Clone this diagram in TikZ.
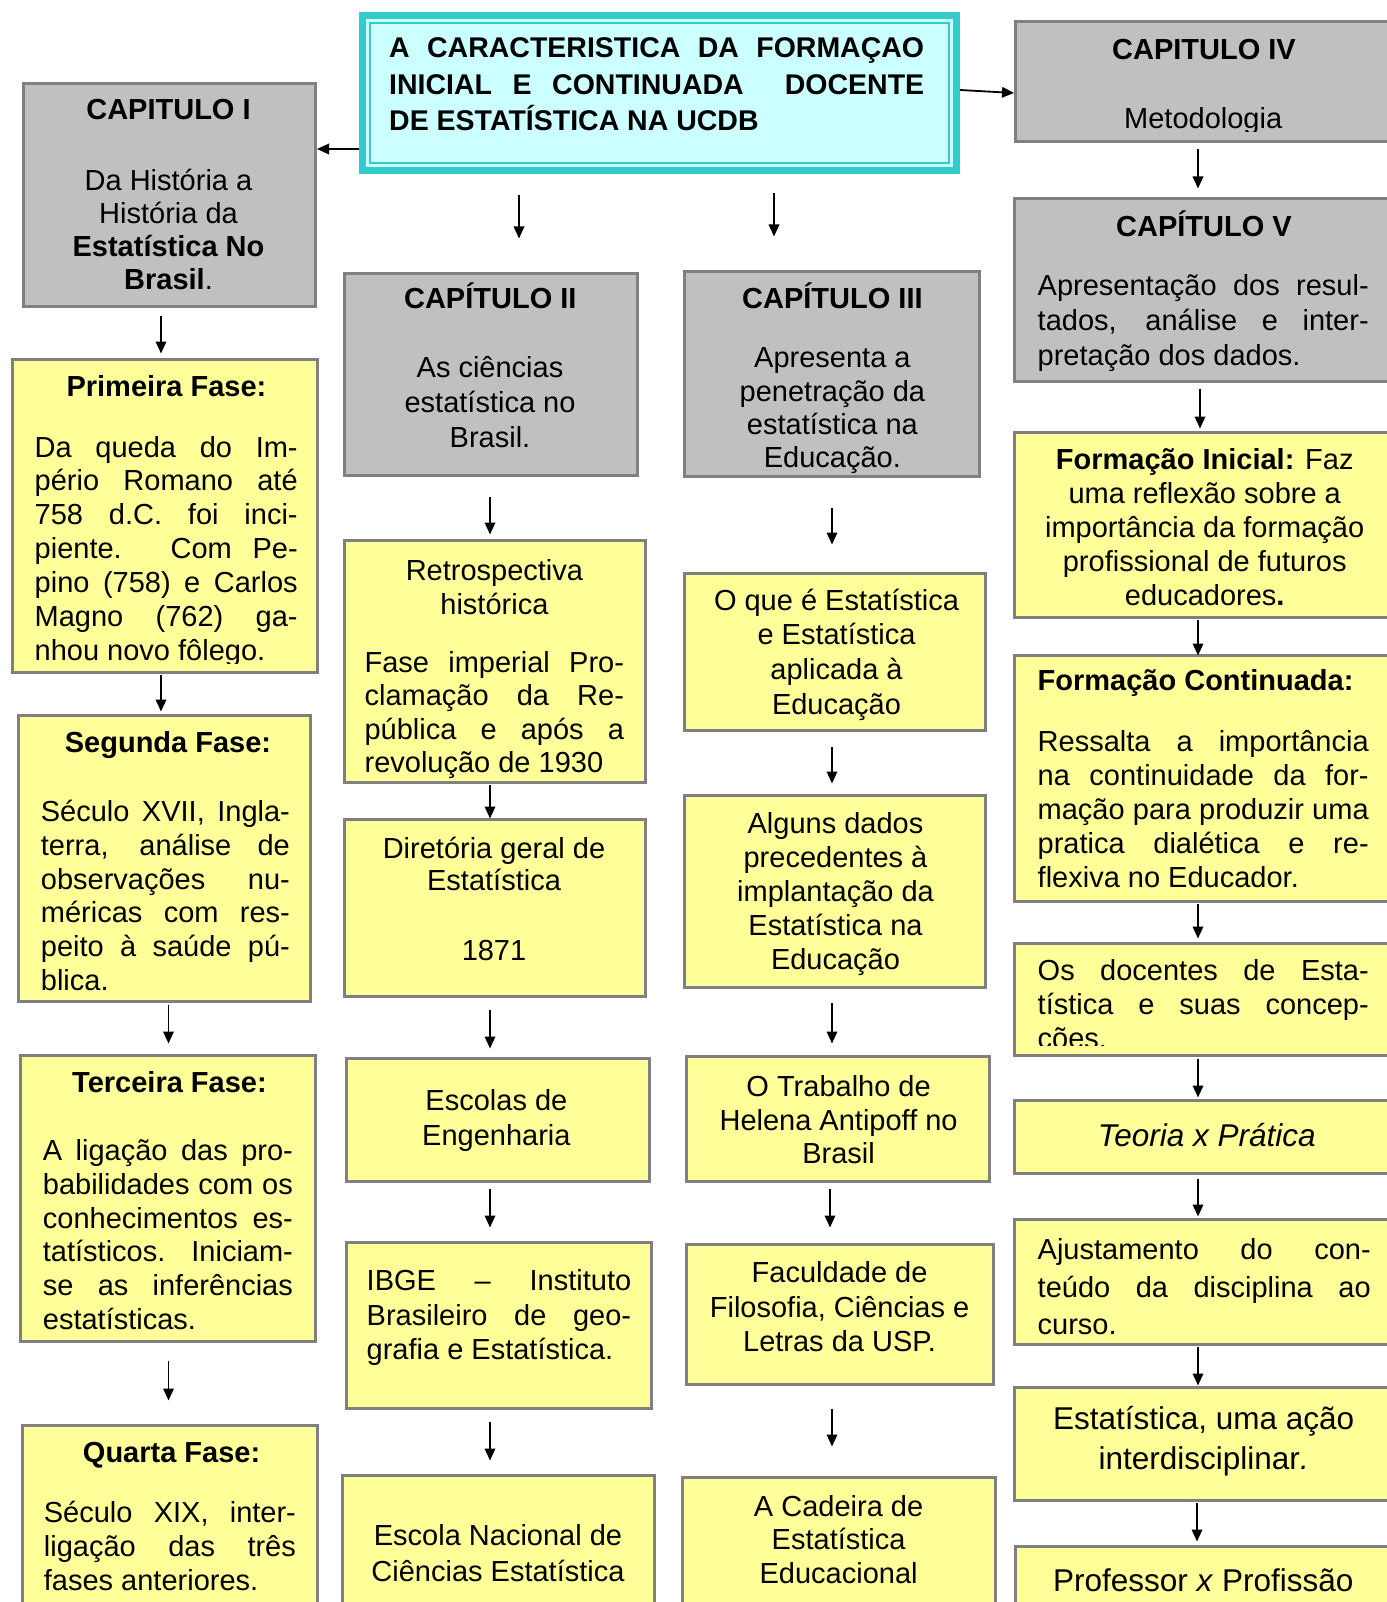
\documentclass[tikz,border=0pt]{standalone}
\usepackage{fontspec}
\setmainfont{Liberation Sans}
\usetikzlibrary{arrows.meta,calc}
\definecolor{gfill}{HTML}{C0C0C0}
\definecolor{yfill}{HTML}{FFFF99}
\definecolor{edgec}{HTML}{808080}
\definecolor{tealc}{HTML}{33CCCC}
\definecolor{cyanf}{HTML}{CCFFFF}
\newcommand\fsz[2]{\fontsize{#1}{#2}\selectfont}
\newcommand\jline[1]{\makebox[\linewidth][s]{#1}\par}
\newcommand\mkbox[6]{\node[#2, minimum width={#5-#3-3}, minimum height={#6-#4-3}] (#1) at ({(#3+#5)/2},{(#4+#6)/2}) {};}
\begin{document}
\begin{tikzpicture}[x=1pt,y=-1pt,
  bx/.style={draw=edgec, line width=3.2pt, inner sep=0pt, outer sep=0pt},
  gbx/.style={bx, fill=gfill},
  ybx/.style={bx, fill=yfill},
  tx/.style={inner sep=0pt, outer sep=0pt, anchor=base, font={\fsz{29}{33.7}}},
  txl/.style={tx, anchor=base west},
  arr/.style={line width=1.8pt, -{Triangle[length=12pt,width=10.5pt]}},
]
\fill[white] (0,0) rectangle (1386,1602);
\useasboundingbox (0,0) rectangle (1386,1602);

% title
\node[draw=tealc, line width=7pt, fill=cyanf, inner sep=0pt, outer sep=0pt, minimum width=594, minimum height=155] (title) at (659.5,93) {};
\draw[tealc, line width=1.8pt] ([xshift=7.5pt,yshift=-7.5pt]title.north west) rectangle ([xshift=-7.5pt,yshift=7.5pt]title.south east);
\node[txl] (titlet) at (389.2,58) {\parbox[t]{535pt}{\fsz{28.5}{36.3}\bfseries
  \jline{A CARACTERISTICA DA FORMAÇAO}\jline{INICIAL E CONTINUADA\ \ DOCENTE}DE ESTATÍSTICA NA UCDB}};

% boxes
\mkbox{capI}{gbx}{22}{82}{317}{308}
\mkbox{prim}{ybx}{11}{358}{319}{674}
\mkbox{seg}{ybx}{17}{714}{312}{1003}
\mkbox{ter}{ybx}{19}{1054}{317}{1343}
\mkbox{quar}{ybx}{21}{1424}{319}{1625}
\mkbox{capII}{gbx}{343}{272}{639}{477}
\mkbox{retro}{ybx}{343}{539}{647}{784}
\mkbox{dir}{ybx}{343}{818}{647}{998}
\mkbox{esc}{ybx}{345}{1057}{651}{1183}
\mkbox{ibge}{ybx}{345}{1241}{653}{1410}
\mkbox{escnac}{ybx}{341}{1474}{656}{1625}
\mkbox{capIII}{gbx}{683}{270}{981}{478}
\mkbox{oque}{ybx}{683}{572}{987}{732}
\mkbox{alg}{ybx}{683}{794}{987}{989}
\mkbox{trab}{ybx}{685}{1055}{991}{1183}
\mkbox{fac}{ybx}{685}{1243}{995}{1386}
\mkbox{cad}{ybx}{681}{1476}{997}{1625}
\mkbox{capIV}{gbx}{1014}{20}{1400}{143}
\mkbox{capV}{gbx}{1013}{197}{1400}{383}
\mkbox{fi}{ybx}{1013}{431}{1400}{619}
\mkbox{fc}{ybx}{1013}{654}{1400}{903}
\mkbox{doc}{ybx}{1013}{942}{1400}{1057}
\mkbox{teo}{ybx}{1013}{1099}{1400}{1175}
\mkbox{aj}{ybx}{1013}{1218}{1400}{1346}
\mkbox{est}{ybx}{1013}{1386}{1400}{1502}
\mkbox{prof}{ybx}{1014}{1545}{1400}{1625}

% column 1 texts
\node[tx] (capIh) at (168.5,119.5) {\bfseries CAPITULO I};
\node[tx] (capIb) at (168.5,190.5) {\parbox[t]{290pt}{\centering\fsz{29}{33}Da História a\\História da\\\textbf{Estatística No}\\\textbf{Brasil}.}};
\node[tx] (primh) at (166.5,396.8) {\bfseries Primeira Fase:};
\begin{scope}
\clip (0,0) rectangle (1386,663);
\node[txl] (primb) at (34.7,457) {\parbox[t]{263pt}{\fsz{29}{33.9}\jline{Da queda do Im-}\jline{pério Romano até}\jline{758 d.C. foi inci-}\jline{piente. Com Pe-}\jline{pino (758) e Carlos}\jline{Magno (762) ga-}nhou novo fôlego.}};
\end{scope}
\node[tx] (segh) at (168,752.2) {\bfseries Segunda Fase:};
\node[txl] (segb) at (40.9,821.7) {\parbox[t]{249pt}{\fsz{29}{33.7}\jline{Século XVII, Ingla-}\jline{terra, análise de}\jline{observações nu-}\jline{méricas com res-}\jline{peito à saúde pú-}blica.}};
\node[tx] (terh) at (169.5,1092.3) {\bfseries Terceira Fase:};
\node[txl] (terb) at (42.9,1160.8) {\parbox[t]{250pt}{\fsz{29}{33.7}\jline{A ligação das pro-}\jline{babilidades com os}\jline{conhecimentos es-}\jline{tatísticos. Iniciam-}\jline{se as inferências}estatísticas.}};
\node[tx] (quarh) at (171.6,1462.1) {\bfseries Quarta Fase:};
\node[txl] (quarb) at (43.9,1522.3) {\parbox[t]{252pt}{\fsz{29}{34.2}\jline{Século XIX, inter-}\jline{ligação das três}fases anteriores.}};

% column 2 texts
\node[tx] (capIIh) at (490.3,308.9) {\bfseries CAPÍTULO II};
\node[tx] (capIIb) at (490,377.4) {\parbox[t]{270pt}{\centering\fsz{29}{35.2}As ciências\\estatística no\\Brasil.}};
\node[tx] (retroh) at (494.4,580.6) {\parbox[t]{280pt}{\centering\fsz{29}{33.7}Retrospectiva\\histórica}};
\node[txl] (retrob) at (364.6,672.5) {\parbox[t]{259.4pt}{\fsz{29}{33.4}\jline{Fase imperial Pro-}\jline{clamação da Re-}\jline{pública e após a}revolução de 1930}};
\node[tx] (dirb) at (494,858.2) {\parbox[t]{280pt}{\centering\fsz{29}{32}Diretória geral de\\Estatística}};
\node[tx] (dirn) at (494,960.6) {1871};
\node[tx] (escb) at (496.4,1110.7) {\parbox[t]{280pt}{\centering\fsz{29}{34.8}Escolas de\\Engenharia}};
\node[txl] (ibgeb) at (366.7,1290.5) {\parbox[t]{264.5pt}{\fsz{29}{34.7}\jline{IBGE – Instituto}\jline{Brasileiro de geo-}grafia e Estatística.}};
\node[tx] (escnacb) at (498,1545.5) {\parbox[t]{290pt}{\centering\fsz{29}{35.8}Escola Nacional de\\Ciências Estatística}};

% column 3 texts
\node[tx] (capIIIh) at (832.4,308.9) {\bfseries CAPÍTULO III};
\node[tx] (capIIIb) at (832.4,367.7) {\parbox[t]{280pt}{\centering\fsz{29}{33.4}Apresenta a\\penetração da\\estatística na\\Educação.}};
\node[tx] (oqueb) at (836.5,610.2) {\parbox[t]{285pt}{\centering\fsz{29}{34.7}O que é Estatística\\e Estatística\\aplicada à\\Educação}};
\node[tx] (algb) at (835.5,833.9) {\parbox[t]{285pt}{\centering\fsz{29}{34}Alguns dados\\precedentes à\\implantação da\\Estatística na\\Educação}};
\node[tx] (trabb) at (838.6,1096.4) {\parbox[t]{290pt}{\centering\fsz{29}{33.7}O Trabalho de\\Helena Antipoff no\\Brasil}};
\node[tx] (facb) at (839.6,1282.3) {\parbox[t]{295pt}{\centering\fsz{29}{34.7}Faculdade de\\Filosofia, Ciências e\\Letras da USP.}};
\node[tx] (cadb) at (838.6,1516.2) {\parbox[t]{295pt}{\centering\fsz{29}{33.7}A Cadeira de\\Estatística\\Educacional}};

% column 4 texts
\node[tx] (capIVh) at (1204,59.7) {\bfseries CAPITULO IV};
\begin{scope}
\clip (0,0) rectangle (1386,131.5);
\node[tx] (capIVb) at (1203.2,128.7) {Metodologia};
\end{scope}
\node[tx] (capVh) at (1204,236.4) {\bfseries CAPÍTULO V};
\node[txl] (capVb) at (1037.7,295.6) {\parbox[t]{331pt}{\fsz{29}{35.2}\jline{Apresentação dos resul-}\jline{tados, análise e inter-}pretação dos dados.}};
\node[tx] (fib) at (1204.7,469.3) {\parbox[t]{345pt}{\centering\fsz{29}{34}\textbf{Formação Inicial:} Faz\\uma reflexão sobre a\\importância da formação\\profissional de futuros\\educadores\textbf{.}}};
\node[txl] (fch) at (1037.7,690.9) {\bfseries Formação Continuada:};
\node[txl] (fcb) at (1037.7,751.2) {\parbox[t]{331pt}{\fsz{29}{34}\jline{Ressalta a importância}\jline{na continuidade da for-}\jline{mação para produzir uma}\jline{pratica dialética e re-}flexiva no Educador.}};
\begin{scope}
\clip (0,0) rectangle (1386,1045);
\node[txl] (docb) at (1037.7,980) {\parbox[t]{331pt}{\fsz{29}{34}\jline{Os docentes de Esta-}\jline{tística e suas concep-}cões.}};
\end{scope}
\node[tx] (teob) at (1206.8,1146.8) {\fsz{31.5}{38}\itshape Teoria x Prática};
\node[txl] (ajb) at (1037.7,1259.8) {\parbox[t]{333pt}{\fsz{29}{37.3}\jline{Ajustamento do con-}\jline{teúdo da disciplina ao}curso.}};
\node[tx] (estb) at (1203.7,1429.6) {\parbox[t]{345pt}{\centering\fsz{31.5}{39.8}Estatística, uma ação\\interdisciplinar\textit{.}}};
\node[tx] (profb) at (1203.2,1591) {\fsz{31.5}{38}Professor \textit{x} Profissão};

% connectors
\draw[arr] ($(title.west)+(-3.5,56)$) -- ($(capI.east)+(1.5,-46)$);
\draw[arr] ($(title.east)+(3.5,-3)$) -- ($(capIV.west)+(-1.5,11.5)$);

\draw[arr] ($(capI.south)+(-8.5,9)$) -- ($(prim.north)+(-4,-6)$);
\draw[arr] ($(prim.south)+(-4,2)$) -- ($(seg.north)+(-3.5,-4)$);
\draw[arr] ($(seg.south)+(4,3)$) -- ($(ter.north)+(0.5,-12)$);
\draw[arr] ($(ter.south)+(0.5,19)$) -- ($(quar.north)+(-1.5,-25)$);

\draw[arr] ($(title.south)+(-140.5,25)$) -- ($(capII.north)+(28,-35)$);
\draw[arr] ($(capII.south)+(-1,21)$) -- ($(retro.north)+(-5,-6)$);
\draw[arr] ($(retro.south)+(-5,2)$) -- ($(dir.north)+(-5,-1)$);
\draw[arr] ($(dir.south)+(-5,13)$) -- ($(esc.north)+(-8,-10)$);
\draw[arr] ($(esc.south)+(-8,7)$) -- ($(ibge.north)+(-9,-15)$);
\draw[arr] ($(ibge.south)+(-9,13)$) -- ($(escnac.north)+(-8.5,-15)$);

\draw[arr] ($(title.south)+(114.5,23)$) -- ($(capIII.north)+(-58,-35)$);
\draw[arr] ($(capIII.south)+(0,31)$) -- ($(oque.north)+(-3,-29)$);
\draw[arr] ($(oque.south)+(-3,16)$) -- ($(alg.north)+(-3,-12)$);
\draw[arr] ($(alg.south)+(-3,15)$) -- ($(trab.north)+(-6,-13)$);
\draw[arr] ($(trab.south)+(-8,7)$) -- ($(fac.north)+(-10,-17)$);
\draw[arr] ($(fac.south)+(-8,24)$) -- ($(cad.north)+(-7,-31)$);

\draw[arr] ($(capIV.south)+(-9,8)$) -- ($(capV.north)+(-8.5,-10)$);
\draw[arr] ($(capV.south)+(-6.5,7)$) -- ($(fi.north)+(-6.5,-4)$);
\draw[arr] ($(fi.south)+(-8.5,2)$) -- ($(fc.north)+(-8.5,0)$);
\draw[arr] ($(fc.south)+(-8.5,2)$) -- ($(doc.north)+(-8.5,-5)$);
\draw[arr] ($(doc.south)+(-8.5,3)$) -- ($(teo.north)+(-8.5,-3)$);
\draw[arr] ($(teo.south)+(-8.5,5)$) -- ($(aj.north)+(-8.5,-3)$);
\draw[arr] ($(aj.south)+(-8.5,2)$) -- ($(est.north)+(-8.5,-2)$);
\draw[arr] ($(est.south)+(-9.5,2)$) -- ($(prof.north)+(-10,-5)$);
\end{tikzpicture}
\end{document}
